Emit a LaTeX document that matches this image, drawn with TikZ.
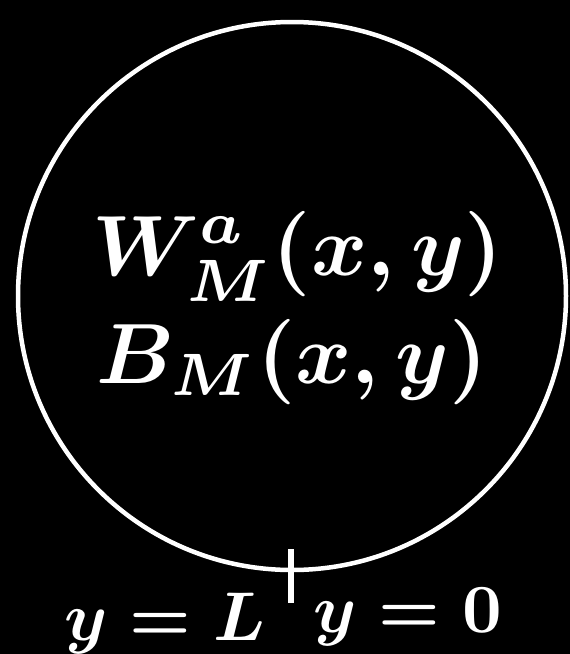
\documentclass[tikz,border=0pt]{standalone}
\usepackage{amsmath,amssymb}
\usepackage{xcolor}
\usepackage{tikz}
\usetikzlibrary{calc}
\definecolor{BoardBlack}{RGB}{0,0,0}
\definecolor{ChalkWhite}{RGB}{255,255,255}

\begin{document}
\begin{tikzpicture}[x=1pt,y=-1pt,
    bigmath/.style={ChalkWhite,inner sep=0pt,anchor=base,scale=8.55},
    endlabel/.style={ChalkWhite,inner sep=0pt,anchor=base,scale=6.9}]
  \fill[BoardBlack] (0,0) rectangle (570,654);
  \useasboundingbox (0,0) rectangle (570,654);
  \coordinate (C) at (292,296);
  \draw[ChalkWhite,line width=4.5pt] (C) circle[radius=274pt];
  \node[bigmath] (wfield) at (298,275) {$\boldsymbol{W^a_M(x,y)}$};
  \node[bigmath] (bfield) at (292,383) {$\boldsymbol{B_M(x,y)}$};
  \coordinate (tickTop) at (291,549);
  \coordinate (tickBot) at (291,603);
  \draw[ChalkWhite,line width=5.5pt] (tickTop) -- (tickBot);
  \node[endlabel] (yL) at (165,640) {$\boldsymbol{y=L}$};
  \node[endlabel] (y0) at (408,632) {$\boldsymbol{y=0}$};
\end{tikzpicture}
\end{document}
